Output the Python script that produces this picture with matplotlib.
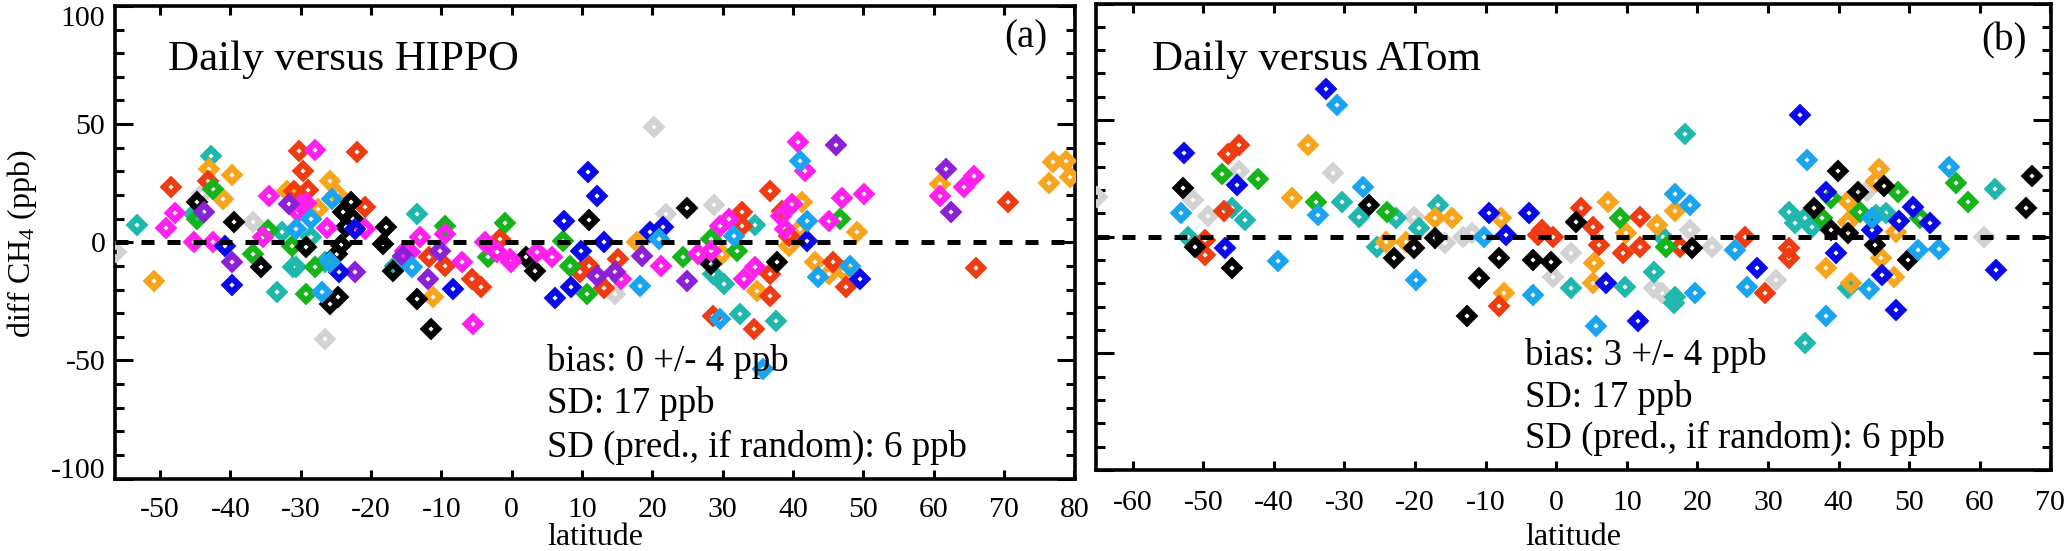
import matplotlib
matplotlib.use('Agg')
import matplotlib.pyplot as plt
from matplotlib.ticker import MultipleLocator, FixedLocator

plt.rcParams['font.family'] = ['Liberation Serif', 'DejaVu Serif']
plt.rcParams['axes.unicode_minus'] = False
plt.rcParams['mathtext.fontset'] = 'custom'
plt.rcParams['mathtext.rm'] = 'Liberation Serif'
plt.rcParams['mathtext.it'] = 'Liberation Serif:italic'

# ---------------- data: (latitude, diff CH4 [ppb]) ----------------
# Panel (a): Daily versus HIPPO
hippo_gray = [(-56.2, -4.2), (-44, 20.3), (-36.8, 8.5), (-26.6, -41.1), (20.3, 48.7),
              (28.7, 15.7), (21.9, 11.9), (14.7, -22)]
hippo_teal = [(-53.3, 7.2), (-42.7, 36.4), (-45.1, 11.9), (-33.4, -21.2), (-32.6, 4.2),
              (-31.1, -10.6), (-28.5, 2.1), (-30.6, -10.6), (-26.6, -8.5), (-16.6, -10.2),
              (-13.4, 11.9), (34.6, 7.2), (28.6, -13.6), (30.2, -17.8), (32.4, -30.5),
              (37.6, -33.5)]
hippo_orange = [(-50.8, -16.5), (-43.1, 30.9), (-41.1, 18.2), (-39.7, 28.4), (-32, 21.6),
                (-27.6, 14), (-25.9, 25.8), (-24.9, 20.3), (-11.2, -23.3), (17.8, 0),
                (29.9, -5.1), (39.5, -1.7), (41.3, 16.9), (41, 5.5), (49.1, 4.2),
                (43.2, -8.5), (45.1, -13.6), (47.2, -12.3), (34.9, -20.8), (77, 33.9),
                (78.8, 34.3), (76.4, 25), (79.4, 27.5), (60.9, 24.6)]
hippo_red = [(-48.4, 23.3), (-43.2, 25.8), (-30.9, 21.6), (-30.3, 38.6), (-29.7, 30.1),
             (-29, 22), (-20.9, 14.8), (-22, 38.1), (-11.7, -6.4), (-9.5, -10.2),
             (-5.7, -15.7), (-4.3, -19.1), (-1.7, 1.3), (36.8, 21.6), (9.7, -12.7),
             (11, -10.2), (15.1, -7.2), (32.7, 12.7), (32.7, 6.8), (36.7, -13.6),
             (38.5, 13.1), (39.4, 2.5), (45.7, -8.5), (47.5, -19.1), (13.2, -19.5),
             (28.6, -31.4), (34.4, -36.9), (36.8, -22.9), (70.6, 16.9), (66, -11)]
hippo_green = [(-42.5, 22.5), (-44.8, 9.7), (-36.8, -5.1), (-34.7, 5.1), (-31.3, -1.7),
               (-28, -10.6), (-29.2, -22), (-9.5, 6.8), (-1, 8), (-3.4, -6.4),
               (7.3, 0.4), (8.3, -10.2), (24.3, -6.4), (28.3, 1.3), (32, -3.8),
               (46.7, 9.7), (10.7, -22)]
hippo_black = [(-44.7, 16.9), (-39.5, 8.5), (-35.6, -10.6), (-29.2, -2.1), (-22.8, 16.9),
               (-24, 12.7), (-22.6, 9.7), (-23.5, 6.4), (-24.2, -1.3), (-24.9, -5.1),
               (-24.7, -23.3), (-25.9, -26.3), (-17.8, 6.4), (-18.3, -0.8), (-16.9, -12.3),
               (-13.5, -24.2), (-11.4, -36.9), (11, 9.3), (24.9, 14.4), (3.3, -12.3),
               (2, -6.4), (28.3, -9.3), (37.7, -8.5)]
hippo_magenta = [(-49.2, 5.9), (-47.9, 12.3), (-45.1, 0), (-42.5, 0), (-34.5, 19.5),
                 (-35.4, 2.1), (-28, 39), (-29.9, 15.7), (-30.4, 12.7), (-29.2, 16.5),
                 (-26.2, 5.9), (-20.9, 5.5), (-15.2, -3.8), (-14.5, -4.2), (-13.1, 2.1),
                 (-9.5, 3.4), (-7.1, -8.5), (-3.8, 0), (-2.1, -4.2), (-0.3, -7.2),
                 (-5.5, -34.7), (40.7, 42.4), (41.7, 30.1), (60.9, 19.5), (64.3, 23.3),
                 (65.7, 28), (46.9, 18.6), (50.1, 20.3), (3.6, -4.2), (5.7, -6.4),
                 (15.6, -15.7), (21.2, -10.2), (26.5, -5.1), (28.3, -3.8), (29.6, 6.8),
                 (30.9, 9.7), (33, -15.7), (34.6, -10.6), (38.3, 11), (39.8, 16.1),
                 (38.8, 5.5), (45.1, 8.9), (-0.1, -8.5)]
hippo_purple = [(-43.8, 12.7), (-39.7, -8.5), (-31.6, 16.1), (-22.3, -12.7), (-15.5, -5.9),
                (-11.9, -15.7), (-10.2, -3.8), (46.1, 41.1), (61.7, 30.9), (62.4, 12.7),
                (12.2, -14.4), (14.7, -12.7), (18.5, -5.9), (25, -16.5)]
hippo_blue = [(-40.7, -1.7), (-39.8, -18.2), (-22.3, 5.5), (-24.5, -12.7), (-8.4, -19.9),
              (10.8, 29.7), (12.1, 19.5), (7.5, 8.9), (21.5, 6.4), (19.6, 4.2),
              (13.2, 0), (9.8, -3.8), (42, 0.4), (49.6, -15.7), (6.1, -23.7), (8.5, -19.1)]
hippo_lightblue = [(-28.5, 9.7), (-30.6, 5.5), (-27, -21.2), (-25.6, 18.2), (-25.9, -8.5),
                   (-14.2, -10.6), (41, 34.3), (20.9, 1.3), (31.6, 2.5), (42, 8.9),
                   (48.1, -10.2), (43.5, -14.8), (18.3, -18.6), (29.6, -32.6), (35.7, -53.8)]

# Panel (b): Daily versus ATom
atom_gray = [(-65.1, 16.9), (-51.5, 15.6), (-49.4, 8.8), (-45, 28.3), (-31.6, 27.5),
             (-20.1, 8.4), (-15.7, -2.7), (-13.2, 0), (-11.9, 1.6), (-0.4, -17.1),
             (44.1, 19.8), (60.6, 0), (31.2, -18.4), (2.1, -7), (22.1, -4.4),
             (18.9, 2.8), (13.8, -21.9), (15, -24)]
atom_teal = [(-52.2, 0), (-46, 12.5), (-44.1, 7.1), (-30.4, 15.1), (-28, 8.4),
             (-22.7, 7.9), (-19.4, 3.7), (-16.7, 13.5), (-25.4, -4.4), (18.3, 43.9),
             (62.1, 20.6), (46.7, 10.1), (45.3, 9.2), (33, 10.5), (33.8, 5.8),
             (35.3, 7.9), (36.2, 4.1), (41.3, -21.9), (15.2, 0), (2.1, -21.9),
             (9.8, -21.4), (13.8, -15), (16.9, -26), (16.7, -28.2), (35.3, -45.6)]
atom_orange = [(-35.2, 39.3), (-37.4, 16.4), (-17.2, 7.9), (-14.8, 7.9), (-24.1, -2.3),
               (-21.3, -2.3), (-7.8, 7.9), (-7.4, -24.1), (45.8, 29.2), (45.3, 24),
               (46, -9.1), (47.9, -17.1), (48.1, 2), (41.4, 15.5), (41.4, 6.2),
               (41.7, -19.8), (38.2, -13.4), (7.4, 14.7), (14.3, 5), (16.9, 10.9),
               (9.9, 1.6), (5.4, -11.3), (5.2, -19.8)]
atom_red = [(-49.8, -1.4), (-49.8, -7.8), (-46.5, 35.5), (-45, 39.3), (-47.1, 10.9),
            (-2.6, 0.7), (-0.4, 0), (-8.1, -29.9), (33, -4.8), (33, -9.1),
            (29.6, -24), (26.8, 0), (3.5, 12.2), (5.2, 4.1), (-2, 2.8),
            (11.9, 8.4), (17.6, -4.4), (11.9, -4.4), (6.1, -3.5), (9.5, -7)]
atom_green = [(-47.4, 27), (-42.3, 24.9), (-34, 15.1), (-24, 10.5), (48.4, 19),
              (56.7, 23.2), (58.4, 14.7), (51.5, 7.9), (43.1, 10.5), (39, 16.4),
              (37.6, 7.9), (9.1, 7.9), (15.5, -4.4)]
atom_black = [(-52.9, 21), (-51.2, -4.4), (-46, -13.3), (-26.5, 13.5), (-23, -9.1),
              (-20.1, -4.8), (-17.2, -0.6), (-8.1, -9.1), (-10.9, -17.7), (-3.3, -9.9),
              (-0.7, -10.8), (-12.6, -34.1), (39.9, 28), (42.8, 19), (46.5, 21.9),
              (67.4, 26.2), (66.5, 12.2), (49.9, -9.9), (45.2, -3.5), (36.5, 12.2),
              (39, 2.8), (41.3, 1.6), (2.8, 6.2), (19.3, -4.8)]
atom_blue = [(-52.8, 36), (-46.9, -4.8), (-45.2, 22.3), (-32.6, 63.2), (-9.5, 10.1),
             (-7.1, 0.7), (-3.8, 10.1), (34.5, 52.4), (62.3, -14.2), (46.2, -16.3),
             (48.5, 6.6), (52.9, 5.8), (50.5, 12.6), (44.8, 2.8), (38.2, 19),
             (39.6, -7), (28.4, -13.4), (7.1, -19.8), (11.6, -36.3), (48.1, -31.2)]
atom_lightblue = [(-53.2, 10.1), (-39.4, -10.6), (-31.1, 56.4), (-33.8, 9.2), (-27.4, 21.5),
                  (-19.9, -18.4), (-10.2, 0), (-3.3, -24.8), (35.6, 33), (55.7, 30),
                  (54.3, -5.2), (51.2, -5.6), (44.8, 7.9), (44.3, -22.6), (27.1, -21.4),
                  (25.4, -5.6), (16.9, 18.5), (19, 13.5), (19.7, -24), (5.7, -38.4),
                  (38.2, -33.8)]

colors = {'gray': '#d2d2d2', 'teal': '#20b8ac', 'orange': '#f8a41c', 'red': '#ee3b12',
          'green': '#14b41a', 'black': '#000000', 'magenta': '#ff20ee',
          'purple': '#8c20d6', 'blue': '#0a0ae8', 'lightblue': '#1aa4f0'}

hippo_series = [('gray', hippo_gray), ('teal', hippo_teal), ('orange', hippo_orange),
                ('red', hippo_red), ('green', hippo_green), ('black', hippo_black),
                ('magenta', hippo_magenta), ('purple', hippo_purple),
                ('blue', hippo_blue), ('lightblue', hippo_lightblue)]
atom_series = [('gray', atom_gray), ('teal', atom_teal), ('orange', atom_orange),
               ('red', atom_red), ('green', atom_green), ('black', atom_black),
               ('blue', atom_blue), ('lightblue', atom_lightblue)]

hippo_title = 'Daily versus HIPPO'
atom_title = 'Daily versus ATom'
hippo_stats = ['bias: 0 +/- 4 ppb', 'SD: 17 ppb', 'SD (pred., if random): 6 ppb']
atom_stats = ['bias: 3 +/- 4 ppb', 'SD: 17 ppb', 'SD (pred., if random): 6 ppb']
hippo_xticks = list(range(-50, 81, 10))
atom_xticks = list(range(-60, 71, 10))
yticks = [-100, -50, 0, 50, 100]

# ---------------- figure ----------------
W, H = 2067, 551
fig = plt.figure(figsize=(W / 100, H / 100), dpi=100)
ax1 = fig.add_axes([115 / W, 1 - 478.5 / H, 960 / W, 472.5 / H])
ax2 = fig.add_axes([1096 / W, 1 - 470 / H, 955 / W, 466.5 / H])

TICKFS = 21.5


def style_axes(ax, xlim, xticks, xpad, ylabels):
    ax.set_xlim(*xlim)
    ax.set_ylim(-100, 100)
    ax.xaxis.set_major_locator(FixedLocator(xticks))
    ax.yaxis.set_major_locator(FixedLocator(yticks))
    ax.yaxis.set_minor_locator(MultipleLocator(10))
    for s in ax.spines.values():
        s.set_linewidth(2.6)
    ax.tick_params(axis='x', which='major', direction='in', length=6.5, width=2.2,
                   top=True, bottom=True, labelsize=TICKFS, pad=xpad)
    ax.tick_params(axis='y', which='major', direction='in', length=13, width=2.2,
                   left=True, right=True, labelsize=TICKFS, pad=7)
    ax.tick_params(axis='y', which='minor', direction='in', length=6.5, width=2.2,
                   left=True, right=True)
    if not ylabels:
        ax.tick_params(axis='y', labelleft=False)
    ax.axhline(0, color='black', lw=3.6, dashes=(2.6, 2.6), zorder=5)


def draw_points(ax, series):
    for cname, pts in series:
        xs = [p[0] for p in pts]
        ys = [p[1] for p in pts]
        ax.plot(xs, ys, linestyle='none', marker='D', ms=7.3, mew=4.5,
                mfc='none', mec=colors[cname], zorder=3)


style_axes(ax1, (-56.4, 80.1), hippo_xticks, 13.3, True)
style_axes(ax2, (-65.2, 70.1), atom_xticks, 14.5, False)
draw_points(ax1, hippo_series)
draw_points(ax2, atom_series)

# y tick label alignment (IDL-like: end labels kept inside)
fig.canvas.draw()
for lab in ax1.get_yticklabels():
    if lab.get_text() == '100':
        lab.set_verticalalignment('top')
    elif lab.get_text() == '-100':
        lab.set_verticalalignment('baseline')

# titles, panel letters, stats
ax1.text(0.0552, 0.8646, hippo_title, transform=ax1.transAxes, fontsize=31, va='baseline')
ax2.text(0.0586, 0.8574, atom_title, transform=ax2.transAxes, fontsize=31, va='baseline')
ax1.text(0.9714, 0.913, '(a)', transform=ax1.transAxes, fontsize=28, ha='right', va='baseline')
ax2.text(0.975, 0.900, '(b)', transform=ax2.transAxes, fontsize=28, ha='right', va='baseline')

for txt, yf in zip(hippo_stats, [0.2275, 0.1386, 0.0455]):
    ax1.text(0.45, yf, txt, transform=ax1.transAxes, fontsize=26.5, va='baseline', zorder=6)
for txt, yf in zip(atom_stats, [0.2251, 0.1357, 0.0472]):
    ax2.text(0.449, yf, txt, transform=ax2.transAxes, fontsize=26.5, va='baseline', zorder=6)

# axis labels
ax1.set_xlabel('latitude', fontsize=23, va='baseline')
ax1.xaxis.set_label_coords(0.5, (478.5 - 545) / 472.5)
ax2.set_xlabel('latitude', fontsize=23, va='baseline')
ax2.xaxis.set_label_coords(0.5, (470 - 545) / 466.5)
fig.text(22 / W, 1 - 244 / H, 'diff CH$_4$ (ppb)', rotation=90, fontsize=23,
         ha='center', va='center')

fig.savefig('out.png', dpi=100)
